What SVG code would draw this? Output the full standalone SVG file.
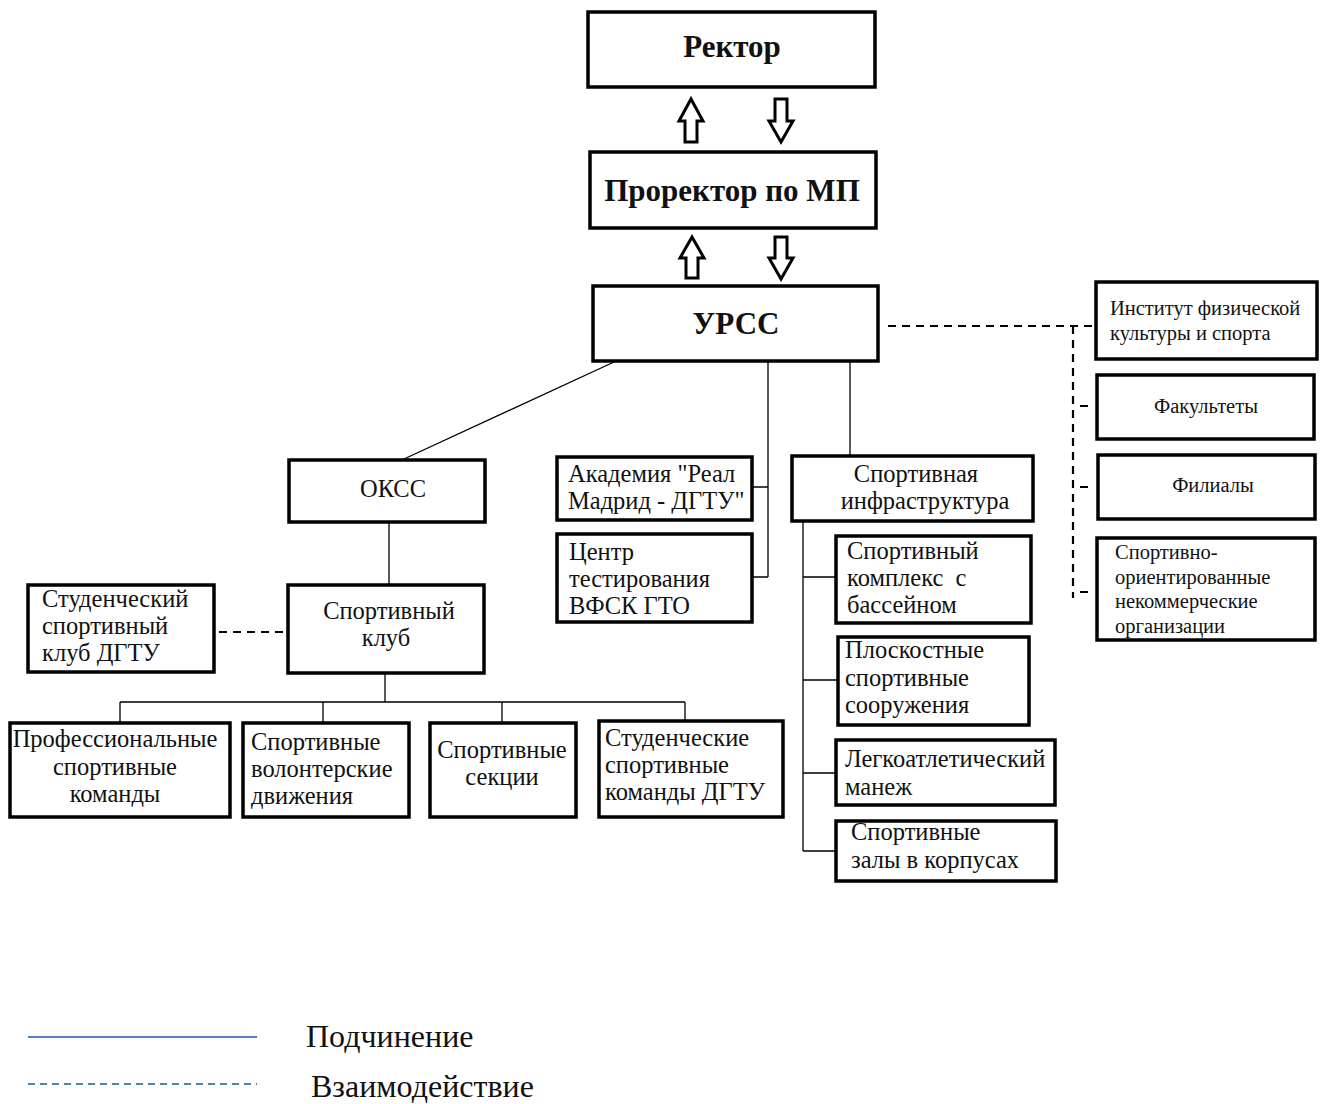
<svg xmlns="http://www.w3.org/2000/svg" width="1324" height="1104" viewBox="0 0 1324 1104">
<defs>
<style>
.box{fill:#fff;stroke:#000;stroke-width:3.5}
.arr{fill:#fff;stroke:#000;stroke-width:3;stroke-linejoin:miter}
.ln{fill:none;stroke:#000;stroke-width:1.3}
.dash{fill:none;stroke:#000;stroke-width:2.2;stroke-dasharray:8 6}
text{font-family:"Liberation Serif","Times New Roman",serif;fill:#111}
.t{font-size:24.5px}
.tb{font-size:31px;font-weight:bold}
.ts{font-size:20.5px}
.mid{text-anchor:middle}
.lg{font-size:32px}
</style>
</defs>
<rect width="1324" height="1104" fill="#fff"/>

<g id="connectors">
<polygon class="arr" points="691,99 703,121 697,121 697,142 685,142 685,121 679,121"/>
<polygon class="arr" points="781,142 793,121 787,121 787,99 775,99 775,121 769,121"/>
<polygon class="arr" points="692,237 704,258 698,258 698,278 686,278 686,258 680,258"/>
<polygon class="arr" points="781,279 793,258 787,258 787,237 775,237 775,258 769,258"/>
<path class="ln" d="M614,362 L404,459"/>
<path class="ln" d="M389,522 V585"/>
<path class="ln" d="M385,673 V702 M120,702 H685 M120,702 V723 M323,702 V723 M502,702 V723 M685,702 V721"/>
<path class="ln" d="M768,362 V577 M752,487 H768 M752,577 H768"/>
<path class="ln" d="M850,362 V456"/>
<path class="ln" d="M803,521 V851 M803,577 H836 M803,680 H838 M803,773 H836 M803,851 H836"/>
<path class="dash" d="M888,326 H1095"/>
<path class="dash" d="M1073,326 V598"/>
<path class="dash" d="M1080,406 H1092 M1080,487 H1092 M1080,592 H1092"/>
<path class="dash" d="M219,632 H286"/>
</g>

<g id="rector"><rect class="box" x="588" y="12" width="287" height="75"/><text class="tb mid" x="732" y="57">Ректор</text></g>
<g id="prorector"><rect class="box" x="590" y="152" width="286" height="76"/><text class="tb mid" x="732" y="201">Проректор по МП</text></g>
<g id="urss"><rect class="box" x="593" y="286" width="285" height="75"/><text class="tb mid" x="736" y="334">УРСС</text></g>

<g id="institut"><rect class="box" x="1096" y="282" width="221" height="77"/><text class="ts" x="1110" y="315">Институт физической</text><text class="ts" x="1110" y="340">культуры и спорта</text></g>
<g id="fakultety"><rect class="box" x="1097" y="375" width="217" height="64"/><text class="ts mid" x="1206" y="413">Факультеты</text></g>
<g id="filialy"><rect class="box" x="1098" y="455" width="217" height="64"/><text class="ts mid" x="1213" y="492">Филиалы</text></g>
<g id="nko"><rect class="box" x="1097" y="538" width="218" height="102"/><text class="ts" x="1115" y="559">Спортивно-</text><text class="ts" x="1115" y="584">ориентированные</text><text class="ts" x="1115" y="608">некоммерческие</text><text class="ts" x="1115" y="633">организации</text></g>

<g id="okss"><rect class="box" x="289" y="460" width="196" height="62"/><text class="t mid" x="393" y="497">ОКСС</text></g>
<g id="sportclub"><rect class="box" x="288" y="585" width="196" height="88"/><text class="t mid" x="389" y="619">Спортивный</text><text class="t mid" x="386" y="646">клуб</text></g>
<g id="studclub"><rect class="box" x="28" y="585" width="186" height="87"/><text class="t" x="42" y="607">Студенческий</text><text class="t" x="42" y="634">спортивный</text><text class="t" x="42" y="661">клуб ДГТУ</text></g>

<g id="prof"><rect class="box" x="10" y="723" width="220" height="94"/><text class="t mid" x="115" y="747">Профессиональные</text><text class="t mid" x="115" y="775">спортивные</text><text class="t mid" x="115" y="802">команды</text></g>
<g id="volunteer"><rect class="box" x="243" y="723" width="166" height="94"/><text class="t" x="251" y="750">Спортивные</text><text class="t" x="251" y="777">волонтерские</text><text class="t" x="251" y="804">движения</text></g>
<g id="sekcii"><rect class="box" x="430" y="723" width="146" height="94"/><text class="t mid" x="502" y="758">Спортивные</text><text class="t mid" x="502" y="785">секции</text></g>
<g id="studteams"><rect class="box" x="599" y="721" width="184" height="96"/><text class="t" x="605" y="746">Студенческие</text><text class="t" x="605" y="773">спортивные</text><text class="t" x="605" y="800">команды ДГТУ</text></g>

<g id="academy"><rect class="box" x="557" y="457" width="195" height="63"/><text class="t" x="568" y="482">Академия "Реал</text><text class="t" x="568" y="509">Мадрид - ДГТУ"</text></g>
<g id="gto"><rect class="box" x="557" y="534" width="195" height="88"/><text class="t" x="569" y="560">Центр</text><text class="t" x="569" y="587">тестирования</text><text class="t" x="569" y="614">ВФСК ГТО</text></g>

<g id="infra"><rect class="box" x="792" y="456" width="241" height="65"/><text class="t mid" x="916" y="482">Спортивная</text><text class="t mid" x="925" y="509">инфраструктура</text></g>
<g id="kompleks"><rect class="box" x="836" y="536" width="195" height="87"/><text class="t" x="847" y="559">Спортивный</text><text class="t" x="847" y="586" xml:space="preserve">комплекс  с</text><text class="t" x="847" y="613">бассейном</text></g>
<g id="ploskost"><rect class="box" x="838" y="637" width="191" height="88"/><text class="t" x="845" y="658">Плоскостные</text><text class="t" x="845" y="686">спортивные</text><text class="t" x="845" y="713">сооружения</text></g>
<g id="manezh"><rect class="box" x="836" y="740" width="219" height="65"/><text class="t" x="845" y="767">Легкоатлетический</text><text class="t" x="845" y="795">манеж</text></g>
<g id="zaly"><rect class="box" x="836" y="821" width="220" height="60"/><text class="t" x="851" y="840">Спортивные</text><text class="t" x="851" y="868">залы в корпусах</text></g>

<g id="legend">
<line x1="28" y1="1037" x2="257" y2="1037" stroke="#4f81bd" stroke-width="2"/>
<text class="lg" x="306" y="1047">Подчинение</text>
<line x1="28" y1="1084" x2="257" y2="1084" stroke="#4f81bd" stroke-width="2" stroke-dasharray="7 5"/>
<text class="lg" x="311" y="1097">Взаимодействие</text>
</g>
</svg>
